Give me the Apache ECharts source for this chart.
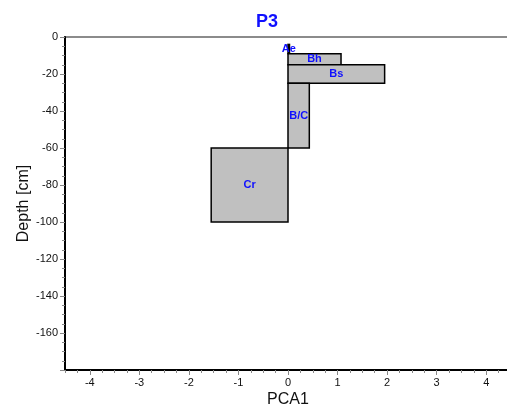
<!DOCTYPE html>
<html>
<head>
<meta charset="utf-8">
<script src="https://cdn.jsdelivr.net/npm/echarts@6/dist/echarts.min.js"></script>
<style>
  html, body { margin: 0; padding: 0; background: #fff; }
  #chart { width: 507px; height: 412px; }
</style>
</head>
<body>
<div id="chart"></div>
<script>
// Soil horizons of profile P3: PCA1 score and depth range (cm, negative downward)
const horizons = ['Ae', 'Bh', 'Bs', 'B/C', 'Cr'];
const pca1Scores = [0.03, 1.07, 1.95, 0.43, -1.55];
const depthTop = [-4, -9, -15, -25, -60];
const depthBottom = [-9, -15, -25, -60, -100];

const xMajorTicks = [-4, -3, -2, -1, 0, 1, 2, 3, 4];

const boxData = horizons.map((h, i) => [pca1Scores[i], depthTop[i], depthBottom[i], h]);

const chart = echarts.init(document.getElementById('chart'), null, { renderer: 'canvas' });

const font = 'Arial, "Liberation Sans", sans-serif';

chart.setOption({
  animation: false,
  title: {
    text: 'P3',
    left: 262,
    top: 8,
    textAlign: 'center',
    textStyle: { color: '#1010ff', fontSize: 18, fontWeight: 'bold', fontFamily: font }
  },
  grid: {
    left: 65, top: 37, width: 446, height: 333,
    outerBoundsMode: 'none',
    containLabel: false,
    show: true, borderColor: '#666', borderWidth: 1.5, backgroundColor: 'transparent'
  },
  xAxis: [
    {
      type: 'value', min: -4.5, max: 4.5,
      position: 'bottom',
      name: 'PCA1', nameLocation: 'middle', nameGap: 22,
      nameMoveOverlap: false,
      nameTextStyle: { color: '#111', fontSize: 16, fontFamily: font },
      axisLine: { show: true, onZero: false, lineStyle: { color: '#000', width: 2 } },
      axisTick: { show: true, customValues: xMajorTicks, length: 5, lineStyle: { color: '#888', width: 1 } },
      axisLabel: { show: true, customValues: xMajorTicks, color: '#111', fontSize: 11, fontFamily: font, margin: 7 },
      splitLine: { show: false }
    },
    {
      // minor ticks every 0.25
      type: 'value', min: -4.5, max: 4.5, interval: 0.25,
      position: 'bottom',
      axisLine: { show: false, onZero: false },
      axisTick: { show: true, length: 3, lineStyle: { color: '#888', width: 1 } },
      axisLabel: { show: false },
      splitLine: { show: false }
    }
  ],
  yAxis: {
    type: 'value', min: -180, max: 0, interval: 20,
    name: 'Depth [cm]', nameLocation: 'middle', nameGap: 33,
    nameMoveOverlap: false,
    nameTextStyle: { color: '#111', fontSize: 16, fontFamily: font },
    axisLine: { show: true, onZero: false, lineStyle: { color: '#000', width: 2 } },
    axisTick: { show: true, length: 5, lineStyle: { color: '#888', width: 1 } },
    minorTick: { show: true, splitNumber: 4, length: 3, lineStyle: { color: '#888', width: 1 } },
    axisLabel: {
      color: '#111', fontSize: 11, fontFamily: font, margin: 7,
      formatter: v => (v === -180 ? '' : String(v))
    },
    splitLine: { show: false },
    minorSplitLine: { show: false }
  },
  series: [{
    type: 'custom',
    xAxisIndex: 0,
    data: boxData,
    renderItem: function (params, api) {
      const p0 = api.coord([0, api.value(1)]);
      const p1 = api.coord([api.value(0), api.value(2)]);
      const x = Math.min(p0[0], p1[0]);
      const y = Math.min(p0[1], p1[1]);
      const w = Math.abs(p1[0] - p0[0]);
      const h = Math.abs(p1[1] - p0[1]);
      return {
        type: 'group',
        children: [
          {
            type: 'rect',
            shape: { x: x, y: y, width: w, height: h },
            style: { fill: '#c0c0c0', stroke: '#000', lineWidth: 1.5 }
          },
          {
            type: 'text',
            style: {
              text: api.value(3),
              x: x + w / 2, y: y + h / 2,
              align: 'center', verticalAlign: 'middle',
              fill: '#1010ff', fontSize: 11, fontWeight: 'bold', fontFamily: font
            }
          }
        ]
      };
    }
  }]
});
</script>
</body>
</html>
